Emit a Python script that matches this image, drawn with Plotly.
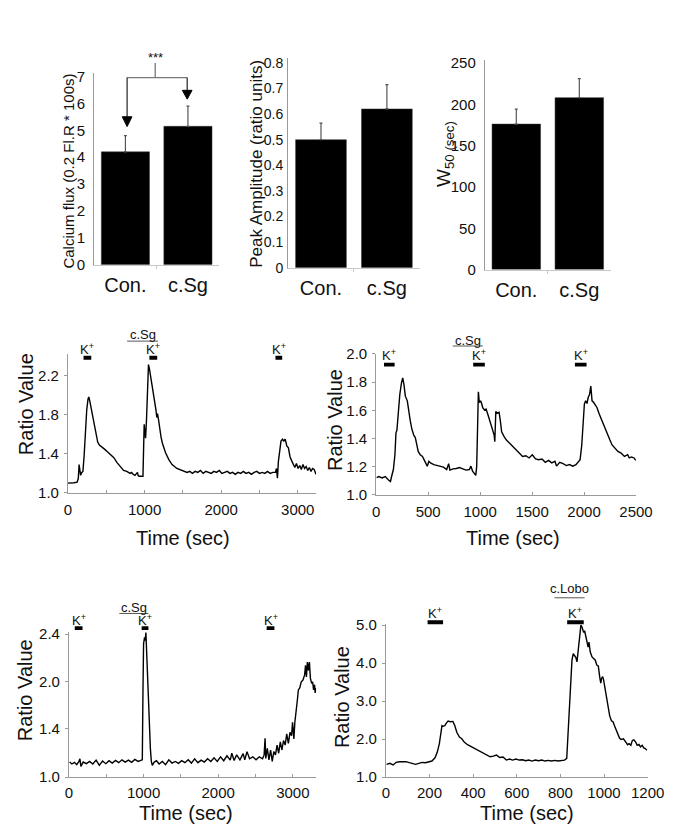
import plotly.graph_objects as go

W, H = 685, 837
FONT = "Liberation Sans, Arial, sans-serif"
INK = "#111111"
AX = "#9a9a9a"

# ---------------- data ----------------
bar_categories = ["Con.", "c.Sg"]
calcium_flux = [4.2, 5.15]
calcium_flux_err = [0.6, 0.75]
peak_amplitude = [0.50, 0.62]
peak_amplitude_err = [0.065, 0.095]
w50_values = [176, 208]
w50_err = [18, 23]

# trace A (middle left)
tA = [0, 40, 80, 120, 135, 145, 155, 165, 180, 195, 211, 228, 245, 262, 272, 287, 304, 325, 346, 367,
      388, 410, 430, 473, 515, 557, 599, 641, 684, 726, 768, 790, 810, 831, 852, 875, 895, 907, 915, 928,
      958, 979, 987, 995, 1005, 1013, 1025, 1042, 1051, 1063, 1085, 1106, 1127, 1140, 1148, 1160, 1169, 1182, 1198, 1215,
      1232, 1274, 1317, 1359, 1422, 1485, 1520, 1555, 1590, 1625, 1660, 1695, 1730, 1765, 1800, 1835, 1870, 1905, 1940, 1975,
      2010, 2045, 2080, 2115, 2150, 2185, 2220, 2255, 2290, 2325, 2360, 2395, 2430, 2465, 2500, 2535, 2570, 2605, 2640, 2675,
      2709, 2722, 2735, 2747, 2764, 2781, 2802, 2819, 2836, 2857, 2878, 2899, 2920, 2941, 2962, 2983, 3004, 3026, 3047, 3068,
      3089, 3110, 3131, 3152, 3173, 3194, 3215, 3237]
vA = [1.10, 1.10, 1.105, 1.11, 1.15, 1.29, 1.20, 1.18, 1.21, 1.22, 1.38, 1.62, 1.85, 1.96, 1.98, 1.93, 1.86, 1.76, 1.66, 1.57,
      1.52, 1.49, 1.48, 1.45, 1.42, 1.39, 1.36, 1.31, 1.27, 1.23, 1.22, 1.21, 1.20, 1.21, 1.19, 1.18, 1.20, 1.21, 1.18, 1.17,
      1.17, 1.17, 1.44, 1.70, 1.62, 1.56, 1.74, 2.17, 2.31, 2.27, 2.16, 2.07, 1.97, 1.93, 1.85, 1.77, 1.81, 1.75, 1.64, 1.57,
      1.51, 1.41, 1.34, 1.29, 1.25, 1.23, 1.22, 1.21, 1.22, 1.20, 1.22, 1.21, 1.23, 1.20, 1.22, 1.21, 1.20, 1.22, 1.21, 1.23,
      1.20, 1.21, 1.22, 1.20, 1.21, 1.19, 1.21, 1.20, 1.22, 1.20, 1.21, 1.19, 1.21, 1.22, 1.20, 1.21, 1.20, 1.22, 1.20, 1.21,
      1.21, 1.25, 1.15, 1.32, 1.42, 1.53, 1.55, 1.53, 1.55, 1.48, 1.46, 1.37, 1.33, 1.30, 1.26, 1.30, 1.25, 1.28, 1.24, 1.29,
      1.25, 1.27, 1.23, 1.26, 1.22, 1.25, 1.24, 1.19]

# trace B (middle right)
tB = [3, 25, 56, 87, 118, 137, 149, 165, 180, 190, 199, 211, 227, 243, 255, 267, 280, 299, 311, 327,
      342, 361, 376, 392, 404, 423, 445, 460, 476, 491, 507, 522, 554, 585, 616, 647, 678, 697, 709, 740,
      771, 802, 833, 865, 896, 911, 927, 942, 958, 967, 977, 983, 992, 1005, 1014, 1026, 1042, 1057, 1073, 1092,
      1107, 1123, 1135, 1141, 1151, 1163, 1182, 1194, 1207, 1232, 1253, 1284, 1316, 1347, 1378, 1409, 1440, 1471, 1502, 1533,
      1564, 1595, 1627, 1658, 1689, 1720, 1735, 1766, 1798, 1829, 1860, 1891, 1922, 1947, 1962, 1978, 1990, 2003, 2015, 2028,
      2040, 2053, 2065, 2077, 2093, 2109, 2124, 2146, 2165, 2180, 2202, 2227, 2249, 2270, 2295, 2326, 2357, 2389, 2420, 2435,
      2457, 2482, 2497]
vB = [1.123, 1.13, 1.12, 1.13, 1.106, 1.095, 1.134, 1.18, 1.285, 1.44, 1.458, 1.574, 1.713, 1.794, 1.829, 1.782, 1.70, 1.667, 1.597, 1.528,
      1.47, 1.424, 1.407, 1.361, 1.308, 1.285, 1.273, 1.25, 1.231, 1.204, 1.238, 1.227, 1.215, 1.208, 1.204, 1.197, 1.18, 1.222, 1.176, 1.185,
      1.187, 1.194, 1.185, 1.176, 1.18, 1.204, 1.169, 1.157, 1.139, 1.204, 1.609, 1.731, 1.655, 1.667, 1.648, 1.616, 1.602, 1.609, 1.574, 1.528,
      1.481, 1.447, 1.424, 1.377, 1.593, 1.579, 1.586, 1.528, 1.447, 1.412, 1.389, 1.366, 1.343, 1.319, 1.30, 1.273, 1.278, 1.262, 1.285, 1.255,
      1.25, 1.255, 1.231, 1.245, 1.227, 1.238, 1.204, 1.231, 1.222, 1.208, 1.215, 1.204, 1.215, 1.238, 1.25, 1.354, 1.528, 1.644, 1.667, 1.648,
      1.69, 1.713, 1.771, 1.667, 1.655, 1.632, 1.62, 1.574, 1.539, 1.505, 1.47, 1.424, 1.389, 1.354, 1.331, 1.308, 1.296, 1.273, 1.285, 1.262,
      1.269, 1.262, 1.245]

# trace C (bottom left)
tC = [9, 39, 74, 104, 134, 147, 160, 191, 234, 277, 320, 364, 407, 450, 494, 537, 580, 624, 667, 710,
      753, 797, 840, 883, 927, 970, 983, 992, 1000, 1013, 1022, 1031, 1039, 1052, 1065, 1078, 1091, 1104, 1117, 1143,
      1173, 1208, 1251, 1295, 1338, 1381, 1425, 1468, 1511, 1554, 1598, 1641, 1684, 1728, 1771, 1814, 1858, 1901, 1944, 1987,
      2031, 2074, 2117, 2161, 2182, 2213, 2247, 2291, 2334, 2356, 2386, 2420, 2464, 2507, 2550, 2594, 2615, 2628, 2637, 2658,
      2680, 2702, 2724, 2745, 2767, 2789, 2810, 2832, 2854, 2875, 2897, 2918, 2940, 2962, 2983, 2996, 3014, 3027, 3048, 3061,
      3074, 3092, 3113, 3135, 3157, 3170, 3182, 3195, 3209, 3222, 3235, 3252, 3265, 3278, 3291, 3299, 3312]
vC = [1.147, 1.128, 1.144, 1.121, 1.153, 1.179, 1.105, 1.147, 1.131, 1.153, 1.128, 1.166, 1.115, 1.157, 1.131, 1.16, 1.137, 1.163, 1.141, 1.169,
      1.147, 1.166, 1.144, 1.173, 1.153, 1.16, 1.169, 1.856, 2.304, 2.367, 2.336, 2.415, 2.256, 2.016, 1.76, 1.505, 1.281, 1.153, 1.115, 1.147,
      1.16, 1.128, 1.153, 1.121, 1.169, 1.137, 1.153, 1.134, 1.16, 1.141, 1.169, 1.137, 1.179, 1.141, 1.166, 1.147, 1.179, 1.153, 1.188, 1.153,
      1.198, 1.16, 1.208, 1.166, 1.233, 1.163, 1.217, 1.169, 1.23, 1.169, 1.249, 1.179, 1.198, 1.169, 1.198, 1.179, 1.217, 1.38, 1.182, 1.281,
      1.169, 1.265, 1.153, 1.249, 1.217, 1.313, 1.233, 1.345, 1.265, 1.358, 1.313, 1.422, 1.329, 1.438, 1.406, 1.537, 1.374, 1.537, 1.645, 1.757,
      1.853, 1.872, 1.933, 1.949, 1.997, 2.093, 1.981, 2.125, 2.045, 2.125, 1.968, 1.917, 1.933, 1.853, 1.904, 1.824, 1.872]

# trace D (bottom right)
tD = [3, 18, 33, 47, 62, 77, 92, 107, 122, 136, 151, 166, 181, 196, 211, 225, 236, 245, 251, 257,
      262, 270, 277, 285, 295, 307, 316, 325, 337, 348, 359, 374, 389, 403, 418, 433, 448, 463, 478, 492,
      507, 522, 537, 552, 567, 581, 596, 611, 626, 641, 655, 670, 685, 700, 715, 730, 744, 759, 774, 789,
      804, 819, 829, 835, 841, 847, 853, 859, 864, 871, 876, 881, 885, 890, 894, 900, 906, 911, 915, 921,
      927, 931, 937, 945, 952, 960, 967, 974, 980, 985, 989, 994, 998, 1004, 1011, 1019, 1026, 1034, 1041, 1048,
      1056, 1063, 1071, 1078, 1089, 1100, 1108, 1115, 1123, 1130, 1137, 1145, 1152, 1160, 1167, 1175, 1182, 1189, 1197]
vD = [1.336, 1.362, 1.319, 1.388, 1.405, 1.414, 1.405, 1.379, 1.353, 1.336, 1.362, 1.388, 1.379, 1.397, 1.422, 1.509, 1.664, 1.879, 2.095, 2.353,
      2.336, 2.353, 2.422, 2.474, 2.457, 2.466, 2.353, 2.181, 2.052, 2.009, 1.922, 1.853, 1.81, 1.767, 1.733, 1.681, 1.647, 1.595, 1.534, 1.552,
      1.578, 1.517, 1.526, 1.448, 1.474, 1.448, 1.474, 1.448, 1.457, 1.431, 1.448, 1.422, 1.448, 1.431, 1.448, 1.422, 1.44, 1.422, 1.44, 1.422,
      1.44, 1.448, 1.491, 2.181, 2.957, 3.69, 4.078, 4.25, 4.207, 4.147, 4.034, 4.336, 4.638, 4.853, 5.0, 4.94, 4.81, 4.853, 4.75, 4.509,
      4.422, 4.552, 4.293, 4.164, 4.121, 4.078, 3.948, 3.922, 3.647, 3.474, 3.603, 3.647, 3.56, 3.345, 3.129, 2.828, 2.612, 2.483, 2.457, 2.353,
      2.224, 2.138, 2.026, 1.991, 2.009, 1.922, 1.853, 1.879, 1.836, 1.966, 1.983, 1.922, 1.836, 1.862, 1.793, 1.836, 1.767, 1.75, 1.707]

# stimulus windows (sec)
kA = [(203, 304), (1063, 1165), (2709, 2797)]
sgA = (772, 1177)
kB = [(75, 177), (933, 1045), (1912, 2024)]
sgB = (737, 1026)
kC = [(78, 182), (974, 1065), (2649, 2753)]
sgC = (675, 1065)
kD = [(191, 262), (831, 907)]
loboD = (773, 911)


def X(px):
    return px / W


def Y(py):
    return 1 - py / H


fig = go.Figure()
annotations = []
shapes = []

# ---------------- bar panels ----------------
bar_panels = [
    (1, calcium_flux, calcium_flux_err, 93, 222, 261, 64.9, [0, 7.15], 15, 5),
    (2, peak_amplitude, peak_amplitude_err, 293, 429, 264, 49.8, [0, 0.82], 14, 1),
    (3, w50_values, w50_err, 496, 626, 266, 52.5, [0, 253], 15, 5),
]
layout_axes = {}
for idx, vals, errs, x0, x1, yb, yt, yr, tfs, ystand in bar_panels:
    xa = "x" if idx == 1 else f"x{idx}"
    ya = "y" if idx == 1 else f"y{idx}"
    fig.add_trace(go.Bar(
        x=[0, 1], y=vals, width=0.77, xaxis=xa, yaxis=ya,
        marker=dict(color="black", line=dict(color="#333", width=0.5)),
        error_y=dict(type="data", array=errs, arrayminus=[0, 0], symmetric=False,
                     color="#555", thickness=1.2, width=1.5),
        showlegend=False, hoverinfo="skip"))
    kx = "xaxis" if idx == 1 else f"xaxis{idx}"
    ky = "yaxis" if idx == 1 else f"yaxis{idx}"
    if idx == 2:
        tvals = [0, 0.1, 0.2, 0.3, 0.4, 0.5, 0.6, 0.7, 0.8]
        ttext = ["0", "0.1", "0.2", "0.3", "0.4", "0.5", "0.6", "0.7", "0.8"]
    elif idx == 1:
        tvals = list(range(0, 8))
        ttext = [str(v) for v in tvals]
    else:
        tvals = [0, 50, 100, 150, 200, 250]
        ttext = [str(v) for v in tvals]
    layout_axes[kx] = dict(domain=[X(x0), X(x1)], anchor=ya, range=[-0.5, 1.5],
                           tickvals=[0, 1], ticktext=bar_categories,
                           tickfont=dict(size=20, color=INK, family=FONT),
                           showline=True, linecolor="#c8c8c8", linewidth=1, ticks="",
                           showgrid=False, zeroline=False, ticklabelstandoff=2,
                           minor=dict(tickvals=[0.5], ticks="outside", ticklen=3, tickcolor="#c8c8c8"))
    layout_axes[ky] = dict(domain=[Y(yb), Y(yt)], anchor=xa, range=yr,
                           tickvals=tvals, ticktext=ttext,
                           tickfont=dict(size=tfs, color=INK, family=FONT),
                           showline=True, linecolor=AX, linewidth=1, ticks="",
                           showgrid=False, zeroline=False, ticklabelstandoff=ystand)

# ---------------- trace panels ----------------
trace_panels = [
    (4, tA, vA, 66, 322, 494, 352, [0, 3240], [1.0, 2.42], [0, 1000, 2000, 3000],
     [1.0, 1.4, 1.8, 2.2], ["1.0", "1.4", "1.8", "2.2"], [500, 1500, 2500], 3),
    (5, tB, vB, 384, 652, 496, 352, [0, 2500], [1.0, 2.0], [0, 500, 1000, 1500, 2000, 2500],
     [1.0, 1.2, 1.4, 1.6, 1.8, 2.0], ["1.0", "1.2", "1.4", "1.6", "1.8", "2.0"], [], 3),
    (6, tC, vC, 67, 322, 784, 635.9, [0, 3312], [1.0, 2.42], [0, 1000, 2000, 3000],
     [1.0, 1.473, 1.936, 2.4], ["1.0", "1.4", "2.0", "2.4"], [500, 1500, 2500], 2),
    (7, tD, vD, 394, 664, 784, 627.8, [0, 1200], [1.0, 5.03], [0, 200, 400, 600, 800, 1000, 1200],
     [1, 2, 3, 4, 5], ["1.0", "2.0", "3.0", "4.0", "5.0"], [], 2),
]
for idx, tt, vv, x0, x1, yb, yt, xr, yr, xt, yv, ytx, minor_t, xstand in trace_panels:
    xa, ya = f"x{idx}", f"y{idx}"
    fig.add_trace(go.Scatter(x=tt, y=vv, mode="lines", xaxis=xa, yaxis=ya,
                             line=dict(color="black", width=1.4), showlegend=False,
                             hoverinfo="skip"))
    layout_axes[f"xaxis{idx}"] = dict(domain=[X(x0), X(x1)], anchor=ya, range=xr,
                                      tickvals=xt, ticktext=[str(v) for v in xt],
                                      tickfont=dict(size=15, color=INK, family=FONT),
                                      showline=True, linecolor=AX, linewidth=1,
                                      ticks="inside", ticklen=3, tickcolor=AX,
                                      showgrid=False, zeroline=False, ticklabelstandoff=xstand,
                                      minor=dict(tickvals=minor_t, ticks="inside", ticklen=3, tickcolor=AX))
    layout_axes[f"yaxis{idx}"] = dict(domain=[Y(yb), Y(yt)], anchor=xa, range=yr,
                                      tickvals=yv, ticktext=ytx,
                                      tickfont=dict(size=15, color=INK, family=FONT),
                                      showline=True, linecolor=AX, linewidth=1,
                                      ticks="outside", ticklen=3, tickcolor=AX,
                                      showgrid=False, zeroline=False, ticklabelstandoff=2)


def txt(x, y, s, size, xref="paper", angle=0, color=INK):
    annotations.append(dict(x=x, y=y, xref=xref, yref="paper", text=s, showarrow=False,
                            textangle=angle, xanchor="center", yanchor="middle",
                            font=dict(size=size, color=color, family=FONT)))


# axis titles
txt(X(67), Y(165), "Calcium flux (0.2 Fl.R * 100s)", 15, angle=-90)
txt(X(261), Y(158), "Peak Amplitude (ratio units)", 17, angle=-90)
txt(X(455), Y(148), "W<sub>50 (sec)</sub>", 19, angle=-90)
txt(X(22), Y(403), "Ratio Value", 20, angle=-90)
txt(X(342), Y(420), "Ratio Value", 20, angle=-90)
txt(X(22), Y(695), "Ratio Value", 20, angle=-90)
txt(X(348), Y(702), "Ratio Value", 20, angle=-90)
txt(X(185), Y(540), "Time (sec)", 20)
txt(X(525), Y(540), "Time (sec)", 20)
txt(X(188), Y(821), "Time (sec)", 20)
txt(X(540), Y(821), "Time (sec)", 20)

# significance bracket (panel 1)
GR = "#777777"
shapes.append(dict(type="line", xref="paper", yref="paper", x0=X(127), x1=X(189), y0=Y(70), y1=Y(70),
                   line=dict(color=GR, width=1.3)))
shapes.append(dict(type="line", xref="paper", yref="paper", x0=X(156), x1=X(156), y0=Y(55), y1=Y(70),
                   line=dict(color=GR, width=1.3)))
shapes.append(dict(type="line", xref="paper", yref="paper", x0=X(127), x1=X(127), y0=Y(70), y1=Y(112),
                   line=dict(color="#333", width=1.3)))
shapes.append(dict(type="line", xref="paper", yref="paper", x0=X(189), x1=X(189), y0=Y(70), y1=Y(84),
                   line=dict(color="#333", width=1.3)))
for cx, top, tip in [(127, 110, 120), (189, 83, 92)]:
    shapes.append(dict(type="path", xref="paper", yref="paper",
                       path=f"M {X(cx-5)} {Y(top)} L {X(cx+5)} {Y(top)} L {X(cx)} {Y(tip)} Z",
                       fillcolor="black", line=dict(color="black", width=1)))
txt(X(156), Y(50), "***", 13)

# stimulus markers
stim = [
    ("x4", kA, sgA, "c.Sg", 347, 354, 358, 339, 332),
    ("x5", kB, sgB, "c.Sg", 353, 361, 365, 344, 338),
    ("x6", kC, sgC, "c.Sg", 624, 630, 634, 617, 611),
    ("x7", kD, loboD, "c.Lobo", 617, 624, 628, 601, 592),
]
for xr_, kwins, sg, sglabel, ktxt_y, kb0, kb1, line_y, sg_txt_y in stim:
    for a, b in kwins:
        shapes.append(dict(type="rect", xref=xr_, yref="paper", x0=a, x1=b, y0=Y(kb1), y1=Y(kb0),
                           fillcolor="black", line=dict(width=0)))
        txt((a + b) / 2, Y(ktxt_y), "K<sup>+</sup>", 13, xref=xr_)
    shapes.append(dict(type="line", xref=xr_, yref="paper", x0=sg[0], x1=sg[1], y0=Y(line_y), y1=Y(line_y),
                       line=dict(color="#555", width=1)))
    txt((sg[0] + sg[1]) / 2, Y(sg_txt_y), sglabel, 13, xref=xr_)

fig.update_layout(width=W, height=H, autosize=False, margin=dict(l=0, r=0, t=0, b=0),
                  paper_bgcolor="white", plot_bgcolor="white",
                  font=dict(family=FONT, color=INK), bargap=0.23,
                  annotations=annotations, shapes=shapes, **layout_axes)

fig.write_html("out.html", config={"displayModeBar": False},
               post_script="document.body.style.margin='0px';document.body.style.overflow='hidden';")
